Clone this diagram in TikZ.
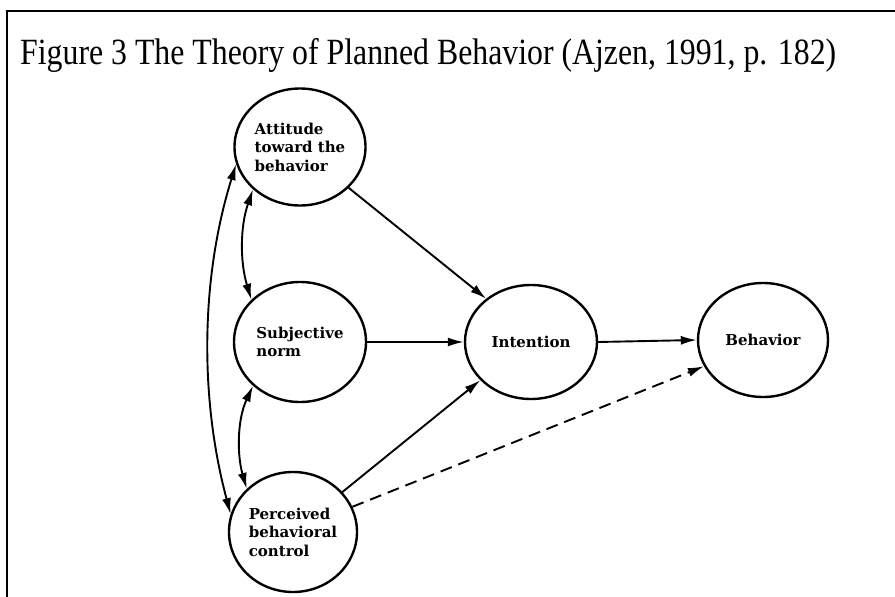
\documentclass[tikz,border=0pt]{standalone}
\usepackage{fontspec}
\setmainfont{Liberation Serif}
\newfontfamily\nodefont{DejaVu Serif}
\usetikzlibrary{shapes.geometric,arrows.meta}
\tikzset{
  ell/.style={ellipse, draw, line width=2.4pt, inner sep=0pt, align=left,
    font=\nodefont\bfseries\fontsize{15}{18.5}\selectfont},
  conn/.style={line width=1.9pt, -{Latex[length=16pt,width=9pt]}},
  dconn/.style={line width=1.9pt, {Latex[length=16pt,width=9pt]}-{Latex[length=16pt,width=9pt]}},
}
\begin{document}
\begin{tikzpicture}[x=1pt,y=-1pt]
\useasboundingbox (0,0) rectangle (895,597);
\clip (0,0) rectangle (895,597);
\fill[white] (0,0) rectangle (895,597);
\draw[line width=2.2pt] (7,620) -- (7,11) -- (920,11);
\node[anchor=base west, inner sep=0pt] (title) at (20,64)
  {\resizebox{816pt}{\height}{\fontsize{37}{40}\selectfont Figure 3 The Theory of Planned Behavior (Ajzen, 1991, p. 182)}};

\node[ell, minimum width=131pt, minimum height=117pt] (att) at (300,147) {Attitude\\toward the\\behavior};
\node[ell, minimum width=132pt, minimum height=120pt] (subj) at (300,342) {Subjective\\norm};
\node[ell, minimum width=128pt, minimum height=120pt] (perc) at (293,532) {Perceived\\behavioral\\control};
\node[ell, minimum width=132pt, minimum height=114pt] (int) at (531,342) {Intention};
\node[ell, minimum width=130pt, minimum height=114pt] (beh) at (763,340) {Behavior};

\draw[conn] (att.320) -- (int.136);
\draw[conn] (subj.east) -- (int.west);
\draw[conn] (perc.39) -- (int.217);
\draw[conn] (int.east) -- (beh.west);
\draw[conn, dash pattern=on 12pt off 7pt] (perc.23) -- (beh.204);

\draw[dconn] (att.222) .. controls (240,227) and (240,262) .. (subj.139);
\draw[dconn] (subj.223) .. controls (237,420) and (237,455) .. (perc.137);
\draw[dconn] (att.195) .. controls (200,280) and (200,400) .. (perc.164);
\end{tikzpicture}
\end{document}
